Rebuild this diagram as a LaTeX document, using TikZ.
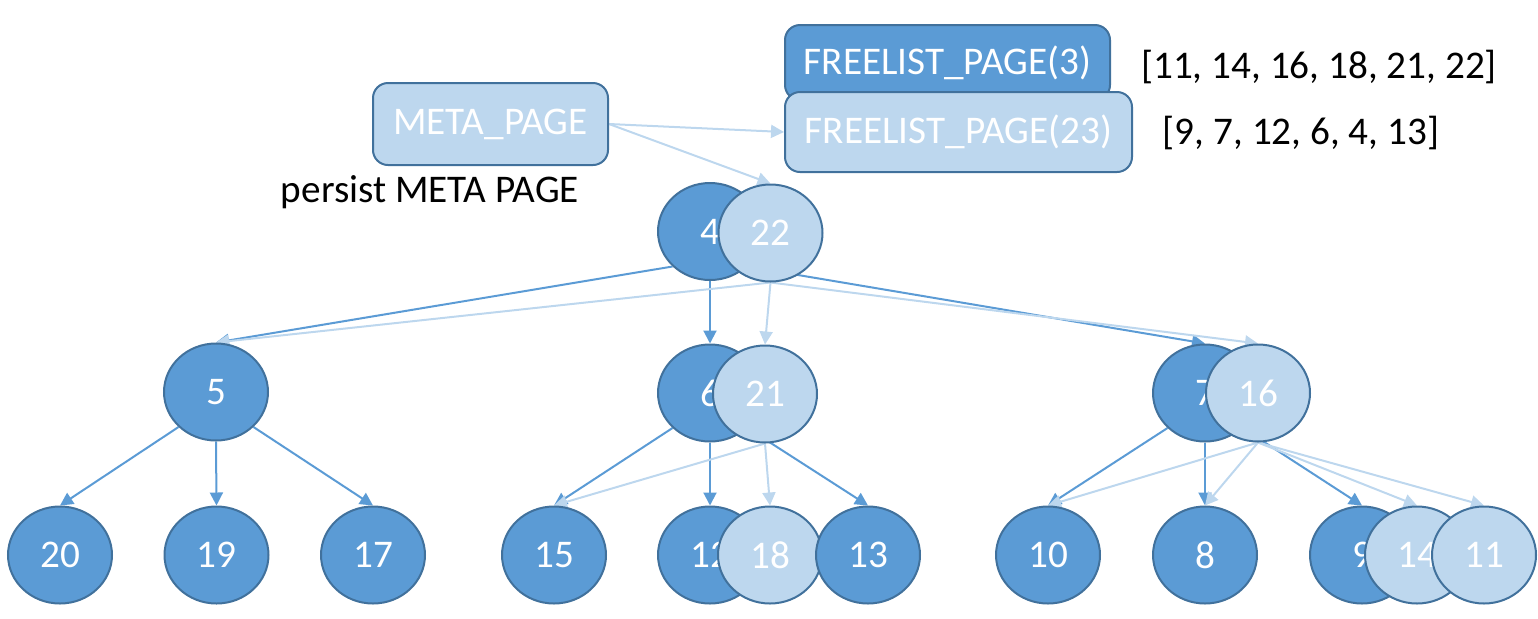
\documentclass[tikz,border=0pt]{standalone}
\usepackage{fontspec}
\setmainfont{Carlito}
\usetikzlibrary{shapes.geometric,arrows.meta,backgrounds}
\definecolor{darkblue}{HTML}{5B9BD5}
\definecolor{lightblue}{HTML}{BDD7EE}
\definecolor{borderblue}{HTML}{41719C}
\begin{document}
\begin{tikzpicture}[x=0.5pt,y=-0.5pt,
  font=\fontsize{19.6}{23}\selectfont,
  dnode/.style={ellipse,draw=borderblue,line width=1pt,fill=darkblue,text=white,minimum width=52pt,minimum height=48.5pt,inner sep=0pt},
  lnode/.style={dnode,fill=lightblue},
  pagebox/.style={rectangle,rounded corners=7.5pt,draw=borderblue,line width=1pt,text=white,inner sep=0pt},
  dedge/.style={darkblue,line width=1pt,-{Triangle[length=6.5pt,width=6.5pt]}},
  ledge/.style={dedge,lightblue}]
\useasboundingbox (0,0) rectangle (1538,618);
% pages
\node[pagebox,fill=lightblue,minimum width=117.5pt,minimum height=41pt] (meta) at (490.5,124) {META\_PAGE};
\node[text=black] (persist) at (430,192) {persist META PAGE};
\node[pagebox,fill=darkblue,minimum width=162.5pt,minimum height=37.5pt] (free3) at (947.5,62.5) {FREELIST\_PAGE(3)};
\node[pagebox,fill=lightblue,minimum width=173.5pt,minimum height=40pt] (free23) at (958.5,132) {FREELIST\_PAGE(23)};
\node[text=black] (list3) at (1319,67) {[11, 14, 16, 18, 21, 22]};
\node[text=black] (list23) at (1301,133) {[9, 7, 12, 6, 4, 13]};
% root
\node[dnode] (n4) at (710,231.5) {4};
\node[lnode] (n22) at (770.5,233) {22};
% second level
\node[dnode] (n5) at (216,392) {5};
\node[dnode] (n6) at (710,393) {6};
\node[lnode] (n21) at (765,394) {21};
\node[dnode] (n7) at (1205,393) {7};
\node[lnode] (n16) at (1258,393) {16};
% leaves
\node[dnode] (n20) at (60,555) {20};
\node[dnode] (n19) at (216.5,555) {19};
\node[dnode] (n17) at (373,555) {17};
\node[dnode] (n15) at (554,555) {15};
\node[dnode] (n12) at (710,555) {12};
\node[lnode] (n18) at (770,555) {18};
\node[dnode] (n13) at (868,555) {13};
\node[dnode] (n10) at (1048,555) {10};
\node[dnode] (n8) at (1205,555) {8};
\node[dnode] (n9) at (1362,555) {9};
\node[lnode] (n14) at (1417,555) {14};
\node[lnode] (n11) at (1484,555) {11};
% connectors behind the nodes
\begin{scope}[on background layer]
\draw[dedge] (n4.south west) -- (n5.north);
\draw[dedge] (n4.south) -- (n6.north);
\draw[dedge] (n4.south east) -- (n7.north);
\draw[dedge] (n5.south west) -- (n20.north);
\draw[dedge] (n5.south) -- (n19.north);
\draw[dedge] (n5.south east) -- (n17.north);
\draw[dedge] (n6.south west) -- (n15.north);
\draw[dedge] (n6.south) -- (n12.north);
\draw[dedge] (n6.south east) -- (n13.north);
\draw[dedge] (n7.south west) -- (n10.north);
\draw[dedge] (n7.south) -- (n8.north);
\draw[dedge] (n7.south east) -- (n9.north);
\draw[ledge] (meta.east) -- (free23.west);
\draw[ledge] (meta.east) -- (n22.north);
\draw[ledge] (n22.south) -- (n5.north);
\draw[ledge] (n22.south) -- (n21.north);
\draw[ledge] (n22.south) -- (n16.north);
\draw[ledge] (n21.south) -- (n15.north);
\draw[ledge] (n21.south) -- (n18.north);
\draw[ledge] (n16.south) -- (n10.north);
\draw[ledge] (n16.south) -- (n8.north);
\draw[ledge] (n16.south) -- (n14.north);
\draw[ledge] (n16.south) -- (n11.north);
\end{scope}
\end{tikzpicture}
\end{document}
